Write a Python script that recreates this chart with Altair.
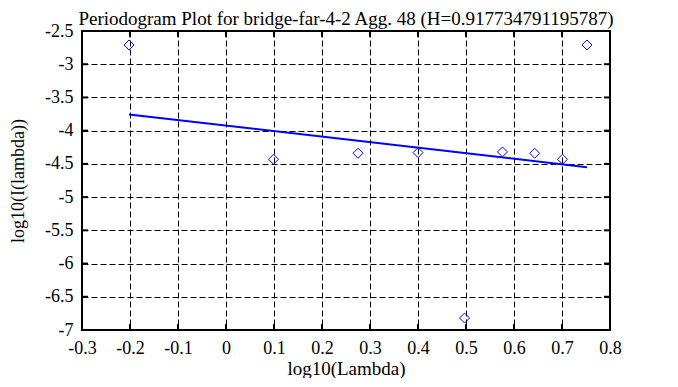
import altair as alt
import pandas as pd

# data
log_lambda = [-0.202, 0.099, 0.275, 0.400, 0.497, 0.576, 0.643, 0.701, 0.752]
log_I = [-2.71, -4.43, -4.34, -4.33, -6.82, -4.32, -4.34, -4.43, -2.71]
fit_x = [-0.202, 0.752]
fit_y = [-3.755, -4.55]
x_ticks = [-0.3, -0.2, -0.1, 0.0, 0.1, 0.2, 0.3, 0.4, 0.5, 0.6, 0.7, 0.8]
y_ticks = [-2.5, -3.0, -3.5, -4.0, -4.5, -5.0, -5.5, -6.0, -6.5, -7.0]

title = "Periodogram Plot for bridge-far-4-2 Agg. 48 (H=0.917734791195787)"
FONT = "Liberation Serif"
W, H = 528, 299
BLUE = "#0000ff"

pts = pd.DataFrame({"x": log_lambda, "y": log_I})
fit = pd.DataFrame({"x": fit_x, "y": fit_y})
xt = pd.DataFrame({"x": x_ticks})
yt = pd.DataFrame({"y": y_ticks})

xscale = alt.Scale(domain=[-0.3, 0.8], nice=False, zero=False)
yscale = alt.Scale(domain=[-7, -2.5], nice=False, zero=False)

xaxis = alt.Axis(values=x_ticks, title="log10(Lambda)", grid=True, ticks=False,
                 domain=False, labelExpr="toString(datum.value)", labelPadding=9,
                 titlePadding=2, labelOverlap=False, labelFlush=False)
yaxis = alt.Axis(values=y_ticks, title="log10(I(lambda))", grid=True, ticks=False,
                 domain=False, labelExpr="toString(datum.value)", labelPadding=9,
                 titlePadding=17, titleFontSize=18, labelOverlap=False, labelFlush=False)


def X(field):
    return alt.X(field + ":Q", scale=xscale, axis=xaxis, title="log10(Lambda)")


def Y(field):
    return alt.Y(field + ":Q", scale=yscale, axis=yaxis, title="log10(I(lambda))")


points = alt.Chart(pts).mark_point(shape="diamond", size=100, filled=False,
                                   color=BLUE, strokeWidth=1, opacity=1).encode(
    x=X("x"), y=Y("y"),
)

line = alt.Chart(fit).mark_line(color=BLUE, strokeWidth=2).encode(
    x=X("x"), y=Y("y"),
)

tick_style = dict(color="black", strokeWidth=2)
xt_bot = alt.Chart(xt).mark_rule(**tick_style).encode(
    x=X("x"), y=alt.value(H), y2=alt.value(H - 6))
xt_top = alt.Chart(xt).mark_rule(**tick_style).encode(
    x=X("x"), y=alt.value(0), y2=alt.value(6))
yt_left = alt.Chart(yt).mark_rule(**tick_style).encode(
    y=Y("y"), x=alt.value(0), x2=alt.value(6))
yt_right = alt.Chart(yt).mark_rule(**tick_style).encode(
    y=Y("y"), x=alt.value(W), x2=alt.value(W - 6))

chart = alt.layer(points, line, xt_bot, xt_top, yt_left, yt_right).properties(
    width=W, height=H,
    background="white",
    title=alt.TitleParams(title, font=FONT, fontSize=19, fontWeight="normal",
                          color="black", offset=-7, anchor="middle"),
    autosize=alt.AutoSizeParams(type="none"),
    padding={"left": 74, "top": 23, "right": 60, "bottom": 48},
).configure_view(
    stroke="black", strokeWidth=2
).configure_axis(
    labelFont=FONT, labelFontSize=18, labelColor="black",
    titleFont=FONT, titleFontSize=19, titleFontWeight="normal", titleColor="black",
    gridColor="black", gridDash=[6, 3], gridWidth=1, gridOpacity=1,
)

chart.save("out.html", embed_options={"renderer": "svg", "actions": False})
